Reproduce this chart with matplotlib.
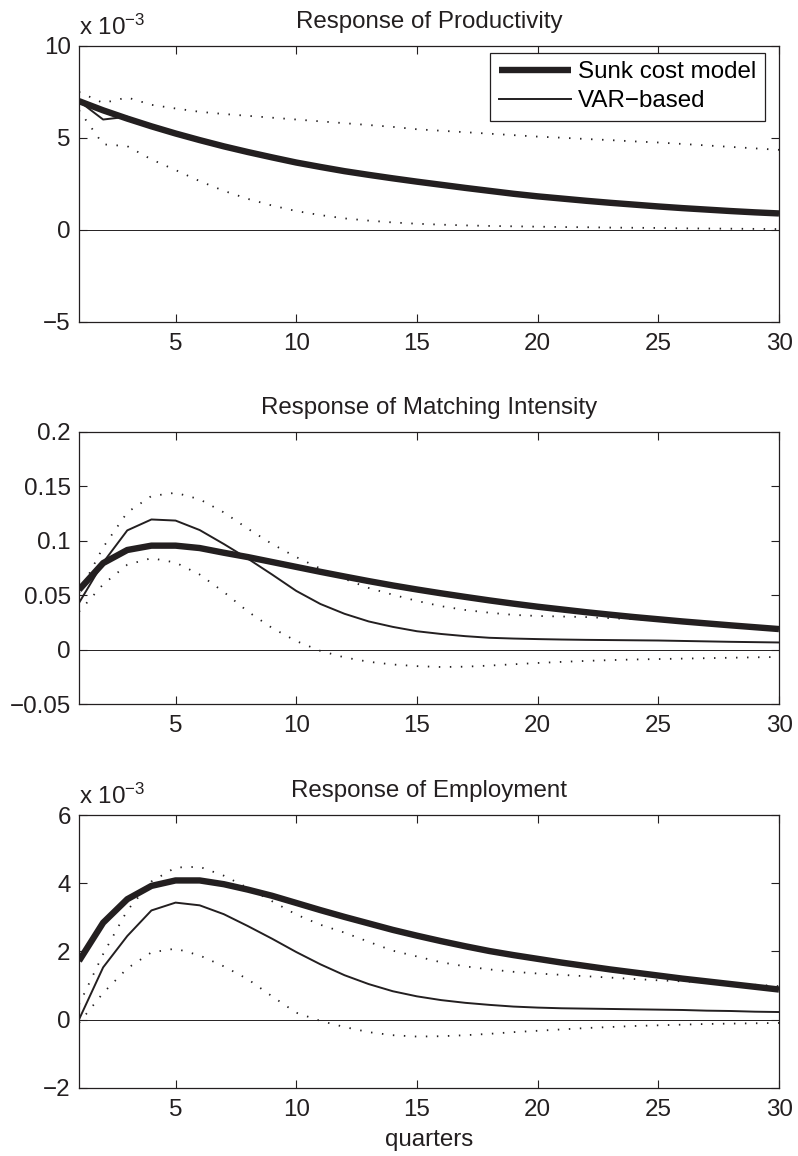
import matplotlib
matplotlib.use('Agg')
import matplotlib.pyplot as plt
from matplotlib.transforms import offset_copy

plt.rcParams['font.family'] = ['Liberation Sans', 'DejaVu Sans']
plt.rcParams['mathtext.fontset'] = 'custom'
plt.rcParams['mathtext.rm'] = 'Liberation Sans'
plt.rcParams['mathtext.it'] = 'Liberation Sans:italic'
plt.rcParams['mathtext.bf'] = 'Liberation Sans:bold'
plt.rcParams['mathtext.default'] = 'regular'

# ---------------- data ----------------
quarters = list(range(1, 31))

# Productivity (units of 1e-3)
prod_model = [7.00, 6.50, 6.05, 5.63, 5.24, 4.88, 4.54, 4.23, 3.94, 3.66,
              3.42, 3.19, 2.99, 2.80, 2.62, 2.45, 2.28, 2.12, 1.96, 1.82,
              1.70, 1.58, 1.47, 1.37, 1.27, 1.18, 1.10, 1.02, 0.95, 0.89]
prod_var = [7.00, 6.00, 6.15, 5.63, 5.24, 4.88, 4.54, 4.23, 3.94, 3.66,
            3.42, 3.19, 2.99, 2.80, 2.62, 2.45, 2.28, 2.12, 1.96, 1.82,
            1.70, 1.58, 1.47, 1.37, 1.27, 1.18, 1.10, 1.02, 0.95, 0.89]
prod_upper = [7.5, 6.9, 7.2, 6.8, 6.6, 6.42, 6.3, 6.2, 6.1, 6.0,
              5.9, 5.8, 5.7, 5.6, 5.47, 5.39, 5.31, 5.23, 5.15, 5.07,
              5.01, 4.94, 4.88, 4.81, 4.75, 4.67, 4.59, 4.51, 4.43, 4.35]
prod_lower = [6.5, 4.65, 4.55, 3.83, 3.25, 2.65, 2.12, 1.68, 1.32, 1.02,
              0.80, 0.62, 0.50, 0.40, 0.33, 0.28, 0.24, 0.21, 0.19, 0.17,
              0.15, 0.14, 0.12, 0.11, 0.10, 0.08, 0.07, 0.06, 0.05, 0.04]

# Matching intensity
match_model = [0.055, 0.0795, 0.0915, 0.0955, 0.0955, 0.0933, 0.0890, 0.0850, 0.0805, 0.0760,
               0.0715, 0.0672, 0.0630, 0.0590, 0.0553, 0.0518, 0.0485, 0.0453, 0.0423, 0.0395,
               0.0370, 0.0345, 0.0322, 0.0300, 0.0280, 0.0260, 0.0242, 0.0224, 0.0207, 0.0190]
match_var = [0.043, 0.080, 0.1095, 0.1195, 0.1185, 0.1098, 0.097, 0.0835, 0.069, 0.054,
             0.042, 0.033, 0.026, 0.021, 0.017, 0.0145, 0.0125, 0.011, 0.0103, 0.0098,
             0.0094, 0.0091, 0.0089, 0.0087, 0.0085, 0.0081, 0.0077, 0.0073, 0.0070, 0.0067]
match_upper = [0.052, 0.094, 0.126, 0.141, 0.144, 0.138, 0.126, 0.111, 0.097, 0.085,
               0.0745, 0.065, 0.0567, 0.0505, 0.0448, 0.040, 0.0365, 0.034, 0.032, 0.031,
               0.0305, 0.030, 0.029, 0.028, 0.027, 0.025, 0.023, 0.021, 0.0195, 0.018]
match_lower = [0.035, 0.060, 0.078, 0.084, 0.080, 0.069, 0.053, 0.035, 0.020, 0.008,
               -0.001, -0.007, -0.011, -0.0135, -0.015, -0.0158, -0.0155, -0.0145, -0.0133, -0.0121,
               -0.0111, -0.0102, -0.0095, -0.0089, -0.0085, -0.0081, -0.0077, -0.0073, -0.0069, -0.0066]

# Employment (units of 1e-3)
emp_model = [1.72, 2.84, 3.53, 3.92, 4.08, 4.08, 3.97, 3.81, 3.63, 3.42,
             3.21, 3.01, 2.82, 2.63, 2.46, 2.30, 2.15, 2.01, 1.89, 1.78,
             1.67, 1.57, 1.47, 1.38, 1.29, 1.20, 1.12, 1.04, 0.96, 0.88]
emp_var = [0.0, 1.53, 2.45, 3.20, 3.43, 3.35, 3.09, 2.74, 2.37, 1.98,
           1.62, 1.30, 1.04, 0.83, 0.68, 0.57, 0.49, 0.43, 0.38, 0.35,
           0.33, 0.32, 0.31, 0.30, 0.29, 0.28, 0.26, 0.25, 0.23, 0.22]
emp_upper = [0.44, 1.92, 3.20, 4.05, 4.46, 4.48, 4.22, 3.86, 3.47, 3.08,
             2.78, 2.55, 2.28, 2.02, 1.85, 1.68, 1.56, 1.47, 1.40, 1.35,
             1.31, 1.27, 1.23, 1.19, 1.15, 1.12, 1.09, 1.06, 1.02, 0.98]
emp_lower = [-0.10, 0.78, 1.50, 1.97, 2.08, 1.88, 1.56, 1.18, 0.68, 0.20,
             -0.04, -0.22, -0.37, -0.46, -0.50, -0.49, -0.46, -0.42, -0.37, -0.33,
             -0.29, -0.25, -0.22, -0.19, -0.17, -0.15, -0.13, -0.12, -0.11, -0.10]

titles = ['Response of Productivity', 'Response of Matching Intensity', 'Response of Employment']
x_ticks = [5, 10, 15, 20, 25, 30]
prod_yticks = [-5, 0, 5, 10]
prod_ylabels = ['\u22125', '0', '5', '10']
match_yticks = [-0.05, 0, 0.05, 0.1, 0.15, 0.2]
match_ylabels = ['\u22120.05', '0', '0.05', '0.1', '0.15', '0.2']
emp_yticks = [-2, 0, 2, 4, 6]
emp_ylabels = ['\u22122', '0', '2', '4', '6']
legend_labels = ['Sunk cost model', 'VAR\u2212based']
x_label = 'quarters'
scale_label = r'x 10$^{-3}$'

# ---------------- layout ----------------
W, H = 798, 1156
FS = 17.4
ink = '#231f20'
fig = plt.figure(figsize=(W / 100, H / 100), dpi=100)

def rect(left, right, top, bottom):
    return [left / W, 1 - bottom / H, (right - left) / W, (bottom - top) / H]

rects = [rect(79, 779, 46, 321.7), rect(79, 779, 431.7, 704.3), rect(79, 779, 815, 1087.7)]
series = [(prod_model, prod_var, prod_upper, prod_lower, (-5, 10), prod_yticks, prod_ylabels, True),
          (match_model, match_var, match_upper, match_lower, (-0.05, 0.2), match_yticks, match_ylabels, False),
          (emp_model, emp_var, emp_upper, emp_lower, (-2, 6), emp_yticks, emp_ylabels, True)]

axes = []
for i, (r, s) in enumerate(zip(rects, series)):
    model, var, up, lo, ylim, yt, yl, scaled = s
    ax = fig.add_axes(r)
    axes.append(ax)
    dots = (0, (0.8, 5.3))
    ax.plot(quarters, up, color=ink, lw=1.3, ls=dots)
    ax.plot(quarters, lo, color=ink, lw=1.3, ls=dots)
    ax.axhline(0, color=ink, lw=0.7)
    l2, = ax.plot(quarters, var, color=ink, lw=1.4, label=legend_labels[1])
    l1, = ax.plot(quarters, model, color=ink, lw=4.6, label=legend_labels[0],
                  solid_capstyle='butt', solid_joinstyle='round')
    ax.set_xlim(1, 30)
    ax.set_ylim(*ylim)
    ax.set_xticks(x_ticks)
    ax.set_xticklabels([str(t) for t in x_ticks])
    ax.set_yticks(yt)
    ax.set_yticklabels(yl)
    ax.tick_params(direction='in', top=True, right=True, length=6, width=0.8,
                   labelsize=FS, colors=ink)
    ax.tick_params(axis='x', pad=8)
    ax.tick_params(axis='y', pad=6)
    for sp in ax.spines.values():
        sp.set_linewidth(0.9)
        sp.set_color(ink)
    ax.set_title(titles[i], fontsize=FS, pad=13, color=ink)
    if scaled:
        tr = offset_copy(ax.transAxes, fig=fig, x=0, y=8, units='points')
        ax.text(0, 1, scale_label, transform=tr, ha='left', va='baseline',
                fontsize=FS, color=ink)
    if i == 0:
        leg = ax.legend(handles=[l1, l2], loc='upper right', bbox_to_anchor=(0.98, 0.976),
                        borderaxespad=0, fontsize=FS, fancybox=False, framealpha=1,
                        edgecolor=ink, handlelength=3.0, handletextpad=0.3,
                        borderpad=0.35, labelspacing=0.3)
        leg.get_frame().set_linewidth(0.9)

axes[2].set_xlabel(x_label, fontsize=FS, labelpad=6, color=ink)

fig.savefig('out.png', dpi=100)
